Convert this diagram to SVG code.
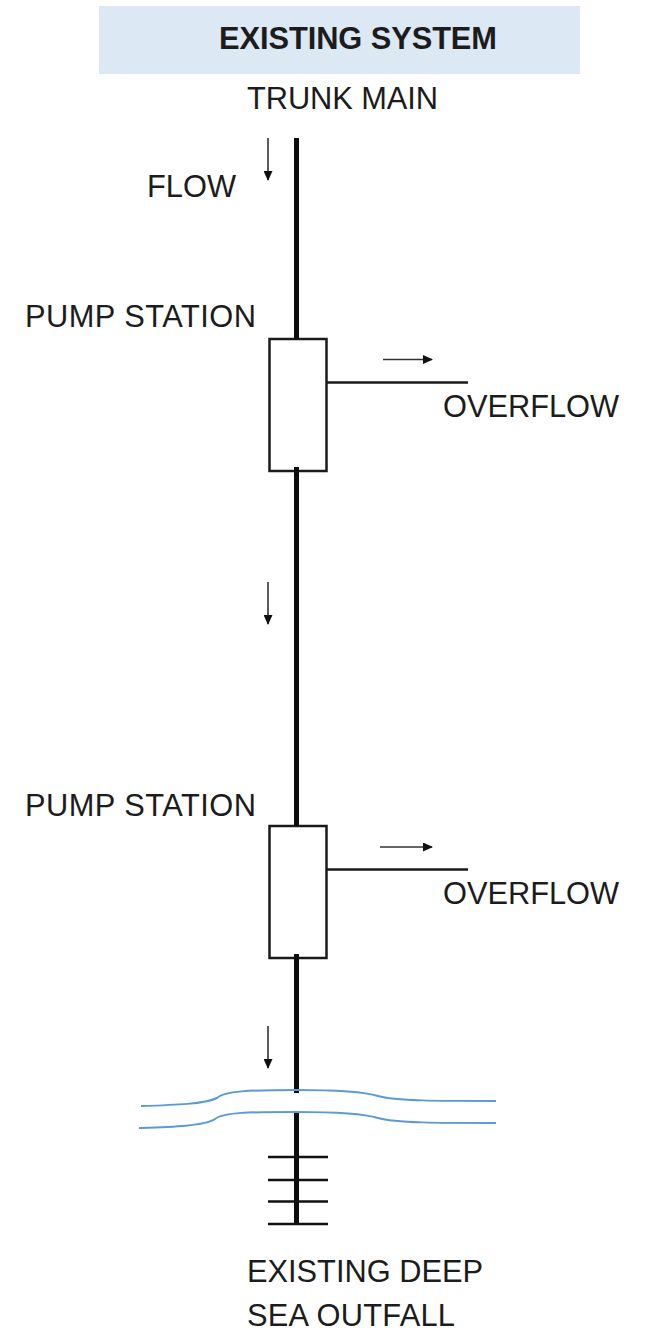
<svg xmlns="http://www.w3.org/2000/svg" width="645" height="1339" viewBox="0 0 645 1339">
<style>
text{font-family:"Liberation Sans",Arial,sans-serif;font-size:30.800px;fill:#1c1c1c}
.t{font-weight:bold}
.p{fill:none;stroke:#0d0d0d;stroke-width:5}
.b{fill:#fff;stroke:#1a1a1a;stroke-width:2.500}
.o{fill:none;stroke:#1a1a1a;stroke-width:2.500}
.a{fill:none;stroke:#333;stroke-width:1.600;marker-end:url(#h)}
.d{fill:none;stroke:#111;stroke-width:2.600}
.w{fill:none;stroke:#5b9bd5;stroke-width:2}
</style>
<defs><marker id="h" markerWidth="10" markerHeight="9" refX="9" refY="4.500" orient="auto" markerUnits="userSpaceOnUse"><path d="M0 0L10 4.500L0 9z" fill="#111"/></marker></defs>
<rect id="header" x="99" y="6" width="481" height="68" fill="#dce8f4"/>
<text class="t" x="358" y="49" text-anchor="middle" textLength="278">EXISTING SYSTEM</text>
<g id="pump1"><rect class="b" x="269.500" y="339" width="57" height="132"/></g>
<g id="pump2"><rect class="b" x="269.500" y="826" width="57" height="132"/></g>
<g id="connectors">
<path class="p" d="M296.500 138V339M296.500 467V826M296.500 954V1093M296.500 1113V1225"/>
<path class="o" d="M327 382.500H468M327 869.500H468"/>
<path class="a" d="M268 138V180"/>
<path class="a" d="M268 582V624"/>
<path class="a" d="M268 1026V1068"/>
<path class="a" d="M383 359.500H432"/>
<path class="a" d="M380 847H432"/>
<path class="d" d="M268 1157H328M268 1180H328M268 1201.500H328M268 1224H328"/>
</g>
<g id="water">
<path class="w" d="M141 1106C175 1105 205 1104 217 1098C224 1091 250 1090 296 1090C340 1090 365 1092 378 1096C395 1101 440 1101 496 1101"/>
<path class="w" d="M139 1128C170 1127 205 1126 215 1119C224 1112 250 1112 296 1112C340 1112 365 1114 378 1118C395 1123 440 1123 496 1123"/>
</g>
<text x="342.500" y="109" text-anchor="middle" textLength="191">TRUNK MAIN</text>
<text x="147" y="197" textLength="89">FLOW</text>
<text x="25" y="327" textLength="231">PUMP STATION</text>
<text x="443" y="417" textLength="176">OVERFLOW</text>
<text x="25" y="816" textLength="231">PUMP STATION</text>
<text x="443" y="904" textLength="176">OVERFLOW</text>
<text x="247" y="1282" textLength="236">EXISTING DEEP</text>
<text x="247" y="1326" textLength="208">SEA OUTFALL</text>
</svg>
